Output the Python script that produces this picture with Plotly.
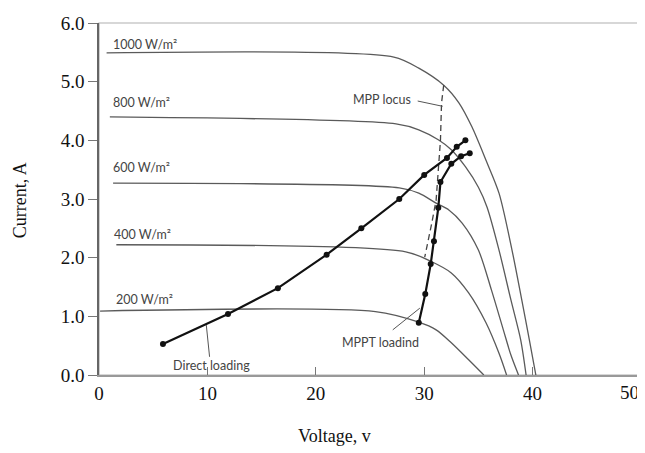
import plotly.graph_objects as go

# ---- I-V curves (Voltage V, Current A) ----
v_1000 = [0.7, 27.2, 29.5, 31.8, 33.2, 34.4, 35.7, 36.9, 38.1, 39.0, 39.7, 40.3]
i_1000 = [5.49, 5.42, 5.23, 4.94, 4.64, 4.23, 3.66, 3.10, 2.13, 1.28, 0.60, 0.0]
v_800 = [1.0, 27.4, 29.5, 31.3, 32.5, 33.8, 35.0, 35.8, 36.9, 38.0, 38.9, 39.4]
i_800 = [4.40, 4.28, 4.18, 4.01, 3.84, 3.55, 3.20, 2.86, 2.13, 1.28, 0.60, 0.0]
v_600 = [1.3, 27.7, 29.5, 31.1, 32.3, 33.5, 35.0, 36.2, 37.3, 38.0, 38.7]
i_600 = [3.27, 3.19, 3.10, 2.93, 2.81, 2.59, 2.13, 1.45, 0.77, 0.34, 0.0]
v_400 = [1.6, 28.3, 30.7, 32.5, 34.1, 35.7, 36.9, 37.6]
i_400 = [2.22, 2.10, 1.93, 1.74, 1.40, 0.89, 0.37, 0.0]
v_200 = [0.1, 25.5, 29.5, 31.1, 32.5, 34.1, 35.5]
i_200 = [1.09, 1.08, 0.90, 0.77, 0.55, 0.26, 0.0]

# ---- Loading paths ----
v_direct = [5.9, 11.9, 16.5, 21.0, 24.2, 27.7, 30.0, 32.1, 33.0, 33.8]
i_direct = [0.53, 1.04, 1.48, 2.05, 2.50, 3.00, 3.41, 3.70, 3.89, 4.00]
v_mppt = [29.5, 30.1, 30.6, 30.9, 31.3, 31.5, 32.5, 33.4, 34.2]
i_mppt = [0.89, 1.38, 1.89, 2.28, 2.85, 3.29, 3.60, 3.73, 3.78]

# ---- MPP locus (dashed) ----
v_locus = [31.8, 31.6, 31.5, 31.25, 31.1, 30.7, 30.05]
i_locus = [4.94, 4.64, 4.00, 3.37, 2.98, 2.59, 2.01]

# ---- labels ----
irr_labels = ["1000 W/m²", "800 W/m²", "600 W/m²", "400 W/m²", "200 W/m²"]
irr_label_v = [1.1, 1.1, 1.1, 1.2, 1.4]
irr_label_i = [5.64, 4.64, 3.53, 2.39, 1.28]

x_ticks = [0, 10, 20, 30, 40, 50]
x_tick_text = ["0", "10", "20", "30", "40", "50"]
y_ticks = [0, 1, 2, 3, 4, 5, 6]
y_tick_text = ["0.0", "1.0", "2.0", "3.0", "4.0", "5.0", "6.0"]

# leader lines for callouts
leader_mpp = ([29.4, 31.7], [4.67, 4.58])
leader_direct = ([10.2, 9.9], [0.31, 0.85])
leader_mppt = ([27.1, 29.6], [0.77, 1.14])

curve_col = "#5a5a5a"
fig = go.Figure()

for vv, ii in [(v_1000, i_1000), (v_800, i_800), (v_600, i_600), (v_400, i_400), (v_200, i_200)]:
    fig.add_trace(go.Scatter(x=vv, y=ii, mode="lines",
                             line=dict(color=curve_col, width=1.3, shape="spline", smoothing=0.8),
                             hoverinfo="skip", showlegend=False))

fig.add_trace(go.Scatter(x=v_locus, y=i_locus, mode="lines",
                         line=dict(color="#444444", width=1.3, dash="6px,4px"), showlegend=False))

for lx, ly in [leader_mpp, leader_direct, leader_mppt]:
    fig.add_trace(go.Scatter(x=lx, y=ly, mode="lines", line=dict(color="#555555", width=1), showlegend=False))

fig.add_trace(go.Scatter(x=v_direct, y=i_direct, mode="lines+markers",
                         line=dict(color="#111111", width=2.2), marker=dict(color="#111111", size=6),
                         showlegend=False))
fig.add_trace(go.Scatter(x=v_mppt, y=i_mppt, mode="lines+markers",
                         line=dict(color="#111111", width=2.2), marker=dict(color="#111111", size=6),
                         showlegend=False))

ann_font = dict(family="Lato, Open Sans, sans-serif", size=12.5, color="#444444")
serif = "Liberation Serif, Times New Roman, serif"
tick_font = dict(family=serif, size=19, color="#111111")

annotations = []
for t, vx, iy in zip(irr_labels, irr_label_v, irr_label_i):
    annotations.append(dict(x=vx, y=iy, xref="x", yref="y", text=t, showarrow=False,
                            xanchor="left", yanchor="middle", font=ann_font))
annotations.append(dict(x=26.1, y=4.70, xref="x", yref="y", text="MPP locus", showarrow=False, font=ann_font))
annotations.append(dict(x=10.4, y=0.17, xref="x", yref="y", text="Direct loading", showarrow=False, font=ann_font))
annotations.append(dict(x=26.0, y=0.56, xref="x", yref="y", text="MPPT loadind", showarrow=False, font=ann_font))

# last x tick label kept inside the page (right-aligned at its tick)
annotations.append(dict(x=x_ticks[-1], y=0, xref="x", yref="paper", text=x_tick_text[-1], showarrow=False,
                        xanchor="right", yanchor="top", yshift=-5, font=tick_font))

annotations.append(dict(x=0.435, y=-0.173, xref="paper", yref="paper", text="Voltage, v", showarrow=False,
                        font=dict(family=serif, size=18, color="#111111"), xanchor="center", yanchor="middle"))
annotations.append(dict(x=-0.1455, y=0.497, xref="paper", yref="paper", text="Current, A", showarrow=False,
                        textangle=-90, font=dict(family=serif, size=18, color="#111111"),
                        xanchor="center", yanchor="middle"))

fig.update_layout(
    width=637, height=445,
    margin=dict(l=91, r=4, t=15, b=78, autoexpand=False),
    paper_bgcolor="white", plot_bgcolor="white",
    annotations=annotations,
    shapes=[dict(type="rect", xref="paper", yref="paper", x0=0, y0=0, x1=1, y1=1,
                 line=dict(color="#b0b0b0", width=1.2), layer="below")],
    xaxis=dict(range=[0, 50], tickvals=x_ticks, ticktext=x_tick_text[:-1] + [""],
               ticks="inside", ticklen=8, tickcolor="#777777",
               showgrid=False, zeroline=False, showline=True, linecolor="#999999", linewidth=2,
               automargin=False, tickfont=tick_font),
    yaxis=dict(range=[0, 6], tickvals=y_ticks, ticktext=y_tick_text, ticks="outside", ticklen=9,
               tickcolor="#777777", showgrid=False, zeroline=False, showline=True, linecolor="#666666",
               linewidth=1.5, automargin=False, tickfont=tick_font),
)

fig.write_html("out.html")
